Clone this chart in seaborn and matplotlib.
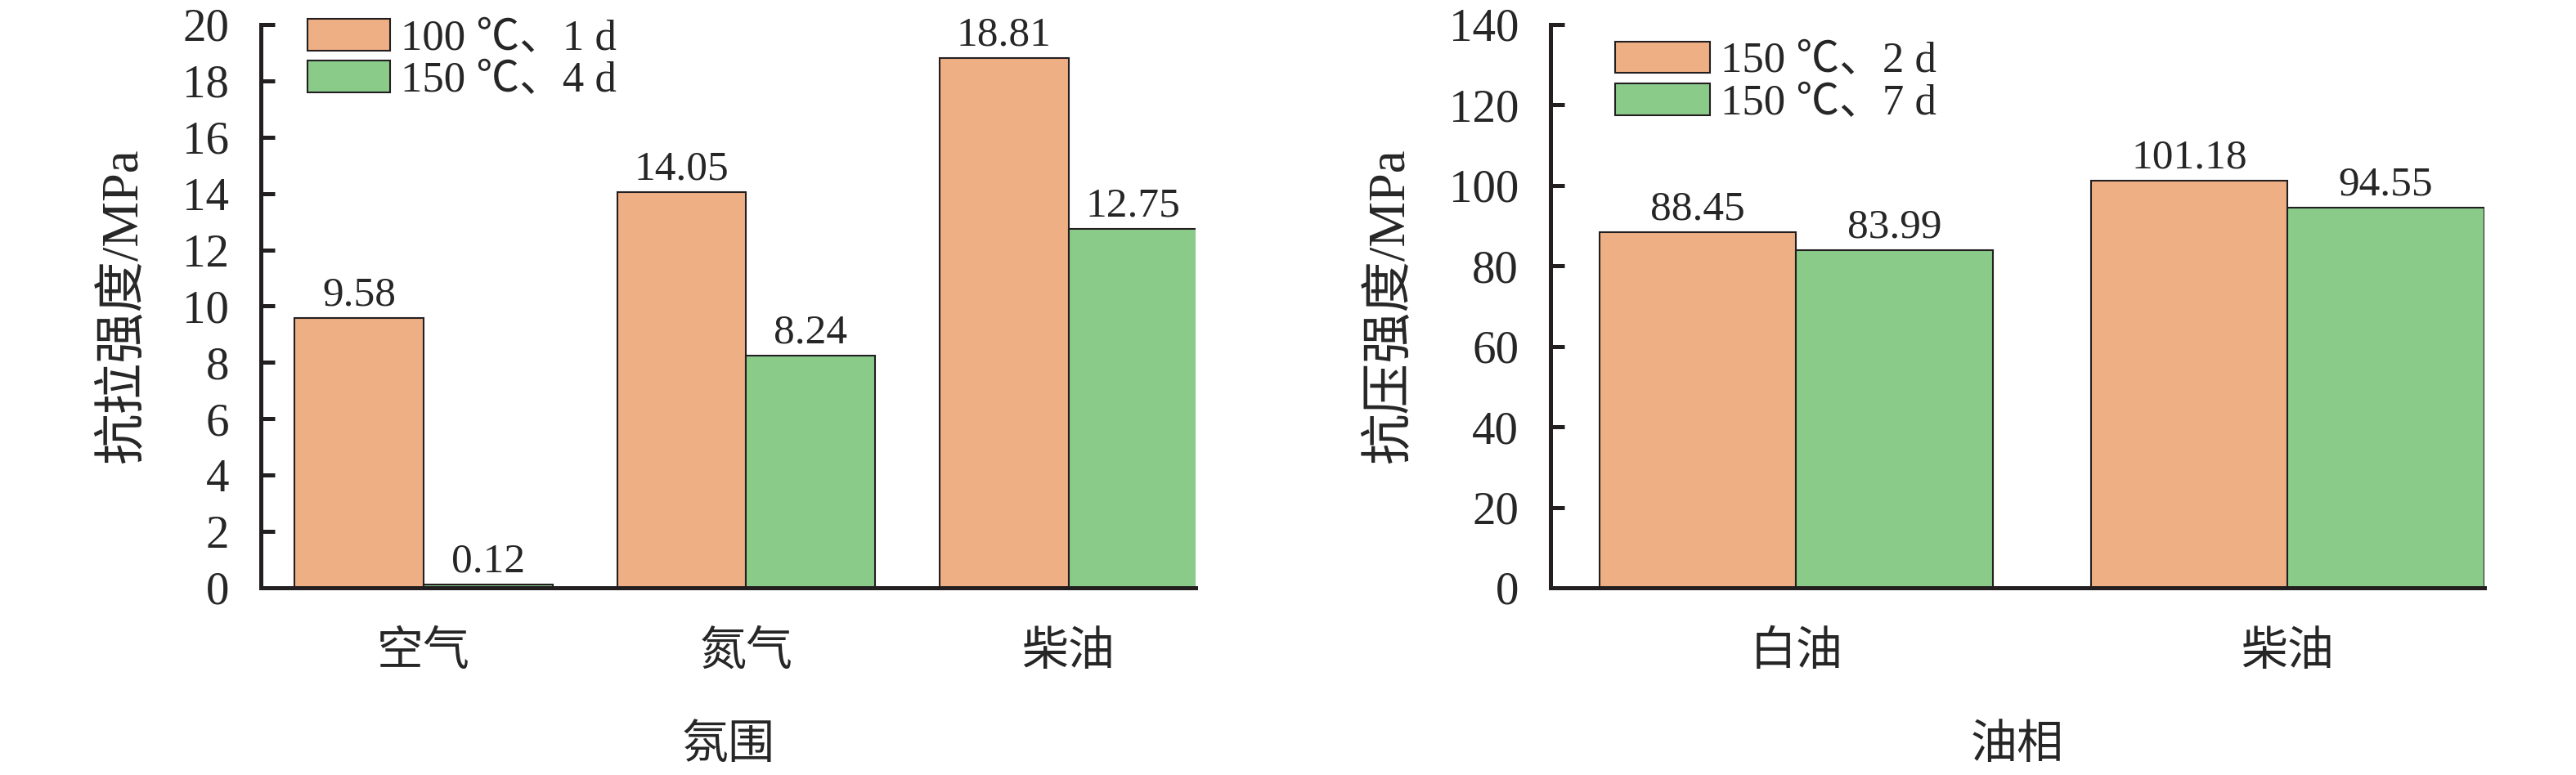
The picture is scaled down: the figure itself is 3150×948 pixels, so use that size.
import numpy as np
import pandas as pd
import matplotlib
matplotlib.use('Agg')
import matplotlib.pyplot as plt
import seaborn as sns

# left panel: tensile strength vs atmosphere
atmos = ['空气', '氮气', '柴油']
cond_left = ['100 ℃、1 d', '150 ℃、4 d']
tensile_a = [9.58, 14.05, 18.81]
tensile_b = [0.12, 8.24, 12.75]

# right panel: compressive strength vs oil phase
oils = ['白油', '柴油']
cond_right = ['150 ℃、2 d', '150 ℃、7 d']
comp_a = [88.45, 101.18]
comp_b = [83.99, 94.55]

sns.set_style('white')
plt.rcParams['font.family'] = ['Liberation Serif', 'Noto Sans CJK SC', 'DejaVu Sans']
plt.rcParams['axes.unicode_minus'] = False

orange = '#EFAF84'
green = '#8ACB8A'
dark = '#231F20'

df_left = pd.DataFrame({
    'cat': atmos * 2,
    'val': tensile_a + tensile_b,
    'cond': [cond_left[0]] * 3 + [cond_left[1]] * 3,
})
df_right = pd.DataFrame({
    'cat': oils * 2,
    'val': comp_a + comp_b,
    'cond': [cond_right[0]] * 2 + [cond_right[1]] * 2,
})

fig = plt.figure(figsize=(31.5, 9.48), dpi=100)
ax1 = fig.add_axes([0.1013, 0.2416, 0.3629, 0.7268])
ax2 = fig.add_axes([0.6019, 0.2416, 0.3625, 0.7268])

tick_fs = 41
ann_fs = 37


def draw(ax, df, cats, conds, ylim, yticks, xlim, ylabel, xlabel, leg_anchor, hlen):
    sns.barplot(data=df, x='cat', y='val', hue='cond', order=cats, hue_order=conds,
                palette=[orange, green], edgecolor=dark, linewidth=1.5,
                saturation=1, errorbar=None, ax=ax)
    for cont in ax.containers:
        ax.bar_label(cont, fmt='%.2f', padding=3, fontsize=ann_fs)
    ax.set_ylim(*ylim)
    ax.set_yticks(yticks)
    ax.set_xlim(*xlim)
    for s in ['top', 'right']:
        ax.spines[s].set_visible(False)
    for s in ['left', 'bottom']:
        ax.spines[s].set_linewidth(3.6)
        ax.spines[s].set_color(dark)
    ax.tick_params(axis='y', direction='in', length=12, width=3.6, color=dark,
                   labelsize=tick_fs, pad=28, left=True)
    ax.tick_params(axis='x', length=0, labelsize=tick_fs, pad=38)
    ax.set_ylabel(ylabel, fontsize=45, labelpad=30)
    ax.set_xlabel(xlabel, fontsize=tick_fs, labelpad=44)
    ax.legend(loc='upper left', bbox_to_anchor=leg_anchor, frameon=False,
              fontsize=38, handlelength=hlen, handleheight=0.75,
              labelspacing=0.05, handletextpad=0.25, borderaxespad=0, borderpad=0)


draw(ax1, df_left, atmos, cond_left, (0, 20), np.arange(0, 21, 2), (-0.505, 2.395),
     '抗拉强度/MPa', '氛围', (0.05, 1.01), 1.9)
draw(ax2, df_right, oils, cond_right, (0, 140), np.arange(0, 141, 20), (-0.5, 1.4),
     '抗压强度/MPa', '油相', (0.069, 0.97), 2.2)

fig.savefig('out.png', dpi=100)
